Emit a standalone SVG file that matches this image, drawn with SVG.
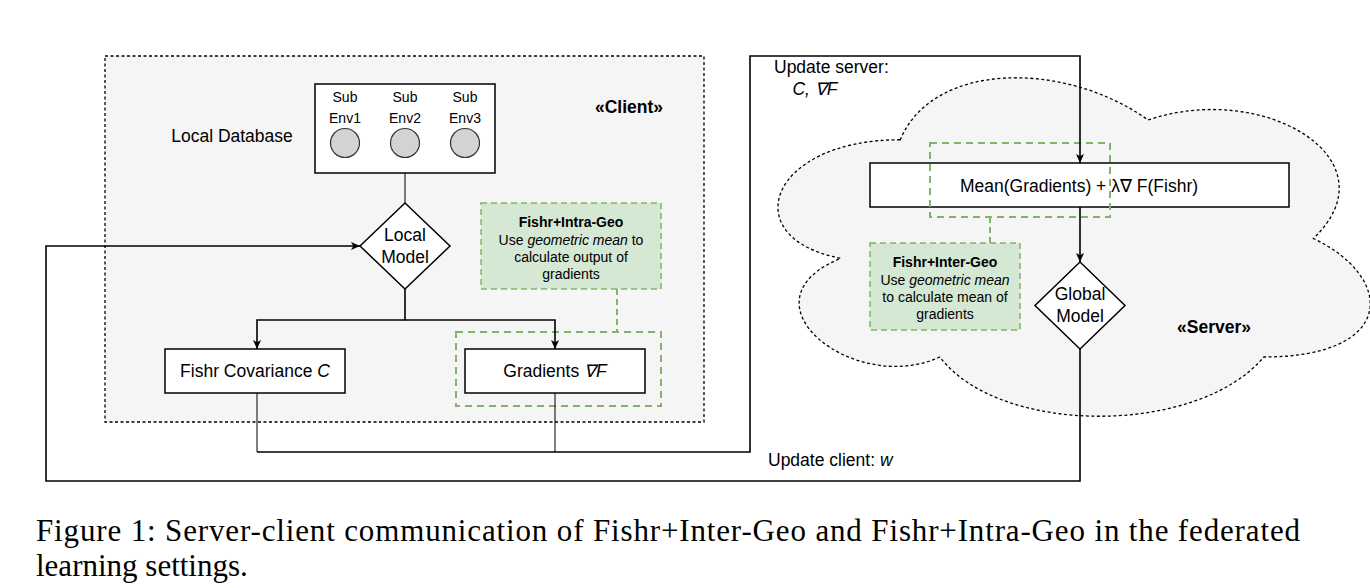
<svg xmlns="http://www.w3.org/2000/svg" width="1370" height="588" viewBox="0 0 1370 588">
  <style>
    .t { font-family: "Liberation Sans", Arial, sans-serif; font-size: 17.5px; fill: #000; }
    .s { font-family: "Liberation Sans", Arial, sans-serif; font-size: 14px; fill: #000; }
    .b { font-weight: bold; }
    .i { font-style: italic; }
    .cap { font-family: "Liberation Serif", "Times New Roman", serif; font-size: 31px; fill: #000; }
    .box { fill: #fff; stroke: #000; stroke-width: 1.5; }
    .grp { fill: #f5f5f5; stroke: #000; stroke-width: 1.3; stroke-dasharray: 3 2.5; }
    .note { fill: #d5e8d4; stroke: #82b366; stroke-width: 1.5; stroke-dasharray: 6 4; }
    .hl { fill: none; stroke: #82b366; stroke-width: 2; stroke-dasharray: 7 5; }
    .edge { fill: none; stroke: #000; stroke-width: 1.6; }
    .thin { fill: none; stroke: #000; stroke-width: 1; }
    .gedge { fill: none; stroke: #82b366; stroke-width: 2; stroke-dasharray: 6 4; }
  </style>
  <defs>
    <marker id="arr" viewBox="0 0 10 10" refX="10" refY="5" markerWidth="9" markerHeight="9" markerUnits="userSpaceOnUse" orient="auto">
      <path d="M0,0.5 L10,5 L0,9.5 L2.5,5 Z" fill="#000"/>
    </marker>
  </defs>

  <g id="client">
    <rect class="grp" x="105" y="56" width="599" height="366"/>
    <text class="t b" x="629" y="113" text-anchor="middle">«Client»</text>
    <text class="t" x="232" y="142" text-anchor="middle">Local Database</text>
  </g>

  <g id="server">
    <path class="grp" d="M900.25,139.75 C768.05,139.75 735,238.5 840.76,258.25 C735,301.7 853.98,396.5 939.91,357 C999.4,436 1197.7,436 1263.8,357 C1396,357 1396,278 1313.4,238.5 C1396,159.5 1263.8,80.5 1148.1,120 C1065.5,60.75 933.3,60.75 900.25,139.75 Z"/>
    <text class="t b" x="1214" y="333" text-anchor="middle">«Server»</text>
  </g>

  <g id="local-db">
    <rect class="box" x="315" y="84" width="180" height="89"/>
    <text class="s" x="345" y="102" text-anchor="middle">Sub</text>
    <text class="s" x="345" y="123" text-anchor="middle">Env1</text>
    <circle cx="345" cy="143" r="14.5" fill="#d3d3d3" stroke="#333" stroke-width="1.2"/>
    <text class="s" x="405" y="102" text-anchor="middle">Sub</text>
    <text class="s" x="405" y="123" text-anchor="middle">Env2</text>
    <circle cx="405" cy="143" r="14.5" fill="#d3d3d3" stroke="#333" stroke-width="1.2"/>
    <text class="s" x="465" y="102" text-anchor="middle">Sub</text>
    <text class="s" x="465" y="123" text-anchor="middle">Env3</text>
    <circle cx="465" cy="143" r="14.5" fill="#d3d3d3" stroke="#333" stroke-width="1.2"/>
  </g>

  <g id="local-model">
    <polygon class="box" points="405,203 450,246 405,289 360,246" stroke-width="1.3"/>
    <text class="t" x="405" y="241" text-anchor="middle">Local</text>
    <text class="t" x="405" y="263" text-anchor="middle">Model</text>
  </g>

  <g id="intra-geo">
    <rect class="note" x="481" y="203" width="180" height="86"/>
    <text class="s b" x="571" y="227" text-anchor="middle">Fishr+Intra-Geo</text>
    <text class="s" x="571" y="245" text-anchor="middle">Use <tspan class="i">geometric mean</tspan> to</text>
    <text class="s" x="571" y="262" text-anchor="middle">calculate output of</text>
    <text class="s" x="571" y="279" text-anchor="middle">gradients</text>
  </g>

  <g id="fishr-cov">
    <rect class="box" x="165" y="349" width="180" height="44" stroke-width="1.2"/>
    <text class="t" x="255" y="377" text-anchor="middle">Fishr Covariance <tspan class="i">C</tspan></text>
  </g>

  <g id="gradients">
    <rect class="box" x="465" y="349" width="180" height="44"/>
    <text class="t" x="555" y="377" text-anchor="middle">Gradients <tspan class="i">∇F</tspan></text>
    <rect class="hl" x="456" y="332" width="205" height="74"/>
  </g>

  <g id="aggregate">
    <rect class="box" x="870" y="163" width="419" height="44" stroke-width="2"/>
    <text class="t" x="1079" y="192" text-anchor="middle">Mean(Gradients) + λ∇ F(Fishr)</text>
    <rect class="hl" x="930" y="143" width="180" height="74"/>
  </g>

  <g id="inter-geo">
    <rect class="note" x="870" y="243" width="150" height="87"/>
    <text class="s b" x="945" y="267" text-anchor="middle">Fishr+Inter-Geo</text>
    <text class="s" x="945" y="285" text-anchor="middle">Use <tspan class="i">geometric mean</tspan></text>
    <text class="s" x="945" y="302" text-anchor="middle">to calculate mean of</text>
    <text class="s" x="945" y="319" text-anchor="middle">gradients</text>
  </g>

  <g id="global-model">
    <polygon class="box" points="1080,262 1125,305.5 1080,349 1035,305.5" stroke-width="1.3"/>
    <text class="t" x="1080" y="300" text-anchor="middle">Global</text>
    <text class="t" x="1080" y="322" text-anchor="middle">Model</text>
  </g>

  <g id="connectors">
    <path class="thin" d="M405,173 L405,203"/>
    <path class="edge" d="M405,289 L405,320 L257,320 L257,349" marker-end="url(#arr)"/>
    <path class="edge" d="M405,320 L555,320 L555,349" marker-end="url(#arr)"/>
    <path class="thin" d="M257,393 L257,452"/>
    <path class="thin" d="M555,393 L555,452"/>
    <path class="edge" d="M257,452 L750,452 L750,56 L1080,56 L1080,163" marker-end="url(#arr)"/>
    <path class="edge" d="M1080,207 L1080,262" marker-end="url(#arr)"/>
    <path class="edge" d="M1080,349 L1080,481 L46,481 L46,246 L360,246" marker-end="url(#arr)"/>
    <path class="gedge" d="M617,289 L617,332"/>
    <path class="gedge" d="M990,217 L990,243"/>
    <text class="t" x="774" y="73">Update server:</text>
    <text class="t i" x="815" y="95" text-anchor="middle">C, ∇F</text>
    <text class="t" x="768" y="466">Update client: <tspan class="i">w</tspan></text>
  </g>

  <g id="caption">
    <text class="cap" x="36" y="541" textLength="1264" lengthAdjust="spacing">Figure 1: Server-client communication of Fishr+Inter-Geo and Fishr+Intra-Geo in the federated</text>
    <text class="cap" x="36" y="576">learning settings.</text>
  </g>
</svg>
